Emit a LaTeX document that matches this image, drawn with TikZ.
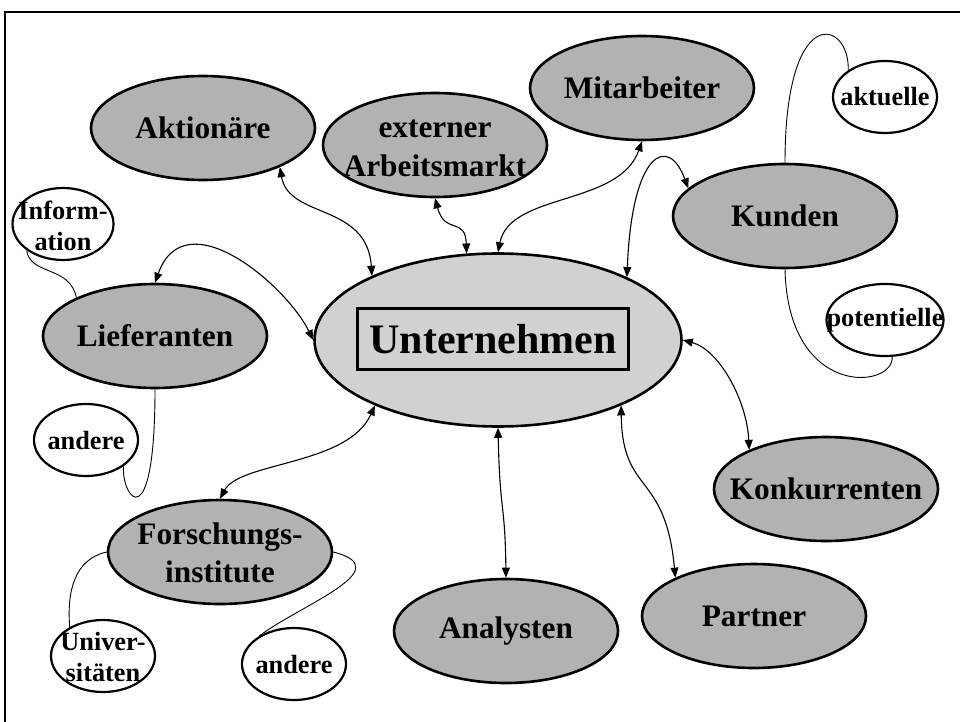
\documentclass[tikz,border=0pt]{standalone}
\usepackage{fontspec}
\setmainfont{Liberation Serif}
\usetikzlibrary{arrows.meta,shapes.geometric}
\definecolor{outergray}{gray}{0.70}
\definecolor{coregray}{gray}{0.82}
\begin{document}
\begin{tikzpicture}[x=1pt,y=-1pt,
  bignode/.style={draw, ellipse, line width=2.6pt, fill=outergray,
    minimum width=224pt, minimum height=104pt, inner sep=0pt},
  smallnode/.style={draw, ellipse, line width=2.2pt, fill=white,
    minimum width=104pt, minimum height=72pt, inner sep=0pt},
  corenode/.style={draw, ellipse, line width=2.6pt, fill=coregray,
    minimum width=367pt, minimum height=173pt, inner sep=0pt},
  bigtext/.style={font=\bfseries\fontsize{31.3}{38}\selectfont, align=center, inner sep=0pt},
  smalltext/.style={font=\bfseries\fontsize{26.3}{31}\selectfont, align=center, inner sep=0pt},
  flow/.style={line width=1.1pt, {Triangle[length=10pt,width=8pt]}-{Triangle[length=10pt,width=8pt]}},
  tie/.style={line width=0.9pt}]
\useasboundingbox (0,0) rectangle (960,722);
% frame
\draw[line width=2pt] (5,722) -- (5,12) -- (960,12);

% central company node
\node[corenode] (unt) at (498,340) {};
\node[draw, line width=2.5pt, minimum width=271pt, minimum height=61pt, inner sep=0pt,
  font=\bfseries\fontsize{42}{48}\selectfont] (untbox) at (493,339) {Unternehmen};

% stakeholder groups
\node[bignode] (akt) at (203,128) {};
\node[bignode] (ext) at (435,145) {};
\node[bignode] (mit) at (642,88) {};
\node[bignode] (kun) at (785,216) {};
\node[bignode] (lief) at (155,336) {};
\node[bignode] (forsch) at (220,552) {};
\node[bignode] (ana) at (506,631) {};
\node[bignode] (par) at (754,616) {};
\node[bignode] (kon) at (826,489) {};

% sub-groups
\node[smallnode, minimum width=101pt] (inf) at (63,224) {};
\node[smallnode] (andl) at (86,440) {};
\node[smallnode] (uni) at (103,656) {};
\node[smallnode] (andb) at (294,664) {};
\node[smallnode] (aktu) at (885,97) {};
\node[smallnode, minimum width=117pt] (pot) at (885,320) {};

% relations to the company
\draw[flow] (akt.333) .. controls +(9,52) and +(-5,-73) .. (unt.153);
\draw[flow] (ext.270) .. controls +(10,37) and +(-1,-37) .. (unt.110);
\draw[flow] (mit.270) .. controls +(-23,65) and +(12,-60) .. (unt.90);
\draw[flow] (unt.26) .. controls +(5,-126) and +(-20,-54) .. (kun.164);
\draw[flow] (lief.90) .. controls +(30,-84) and +(-27,-55) .. (unt.180);
\draw[flow] (forsch.90) .. controls +(20,-37) and +(-27,60) .. (unt.208);
\draw[flow] (unt.270) .. controls +(2,88) and +(-1,-77) .. (ana.90);
\draw[flow] (unt.332) .. controls +(1,90) and +(-10,-107) .. (par.154);
\draw[flow] (unt.0) .. controls +(37,10) and +(-2,-48) .. (kon.153);

% ties to the sub-groups
\draw[tie] (inf.216) .. controls +(3,25) and +(-6,-32) .. (lief.154);
\draw[tie] (lief.270) .. controls +(0,150) and +(-2,33) .. (andl.325);
\draw[tie] (forsch.180) .. controls +(-32,7) and +(-3,-36) .. (uni.139);
\draw[tie] (forsch.0) .. controls +(67,17) and +(41,-31) .. (andb.141);
\draw[tie] (kun.90) .. controls +(0,-163) and +(2,-50) .. (aktu.144);
\draw[tie] (kun.270) .. controls +(3,130) and +(2,32) .. (pot.281);

% labels
\node[bigtext] (t-akt) at (akt) {Aktionäre};
\node[bigtext, font=\bfseries\fontsize{31.3}{39}\selectfont] (t-ext) at (435,148.5) {externer\\Arbeitsmarkt};
\node[bigtext] (t-mit) at (mit) {Mitarbeiter};
\node[bigtext] (t-kun) at (kun) {Kunden};
\node[bigtext] (t-lief) at (lief) {Lieferanten};
\node[bigtext] (t-forsch) at (220,553) {Forschungs-\\institute};
\node[bigtext] (t-ana) at (ana) {Analysten};
\node[bigtext] (t-par) at (par) {Partner};
\node[bigtext] (t-kon) at (kon) {Konkurrenten};
\node[smalltext] (t-inf) at (63,225.5) {Inform-\\ation};
\node[smalltext] (t-andl) at (andl) {andere};
\node[smalltext] (t-uni) at (103,657) {Univer-\\sitäten};
\node[smalltext] (t-andb) at (andb) {andere};
\node[smalltext] (t-aktu) at (aktu) {aktuelle};
\node[smalltext] (t-pot) at (pot) {potentielle};
\end{tikzpicture}
\end{document}
